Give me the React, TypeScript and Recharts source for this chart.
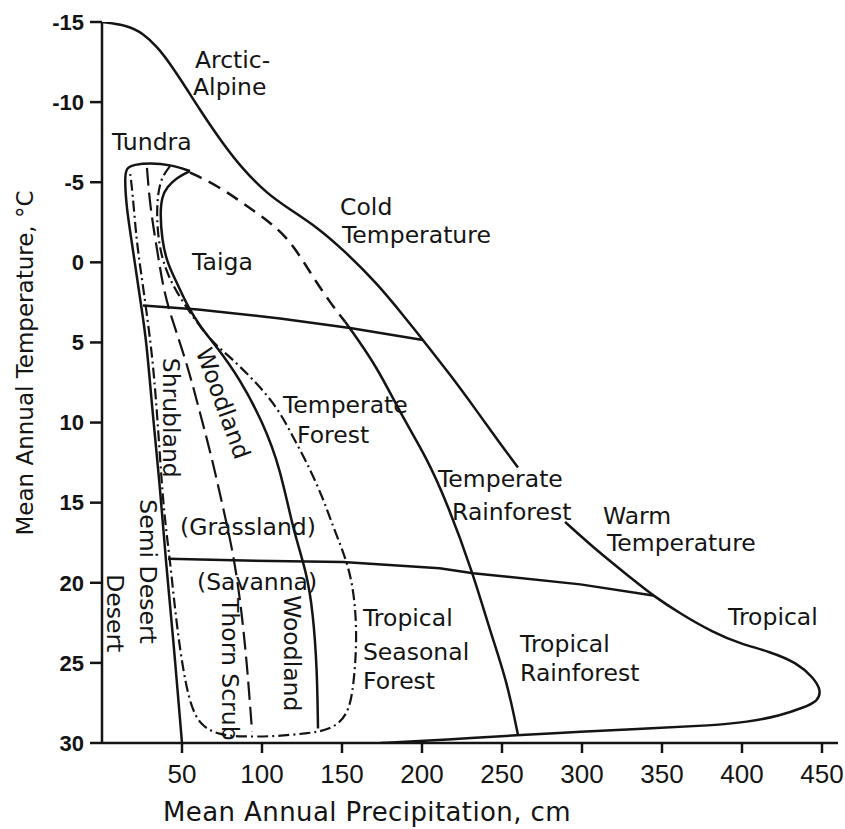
import { ComposedChart, Line, Scatter, XAxis, YAxis } from "recharts";

type Pt = { x: number; y: number };

// x = mean annual precipitation (cm), y = mean annual temperature (°C)
const precipTicks = [50, 100, 150, 200, 250, 300, 350, 400, 450];
const tempTicks = [-15, -10, -5, 0, 5, 10, 15, 20, 25, 30];

// outer envelope, broken where the "Temperate Rainforest" label sits on it
const outerUpper: Pt[] = [
  { x: 0, y: -15 }, { x: 15.6, y: -14.8 }, { x: 25.6, y: -14.3 }, { x: 35, y: -13.4 },
  { x: 42.5, y: -12.4 }, { x: 50.6, y: -11.2 }, { x: 61.3, y: -9.5 }, { x: 75.6, y: -7.4 },
  { x: 88.1, y: -5.8 }, { x: 103, y: -4.3 }, { x: 117.5, y: -3.3 }, { x: 134.4, y: -2.2 },
  { x: 150.6, y: -0.8 }, { x: 171.9, y: 1.3 }, { x: 190.6, y: 3.6 }, { x: 200.6, y: 4.85 },
  { x: 217.5, y: 7.0 }, { x: 233, y: 9.1 }, { x: 248, y: 11.2 }, { x: 260, y: 12.8 },
];
const outerLower: Pt[] = [
  { x: 289.4, y: 16.2 }, { x: 309.4, y: 18.0 }, { x: 331.9, y: 19.8 }, { x: 344.4, y: 20.8 },
  { x: 361, y: 21.9 }, { x: 381.9, y: 23.1 }, { x: 398.8, y: 23.8 }, { x: 417.5, y: 24.3 },
  { x: 434.4, y: 25.0 }, { x: 444.4, y: 25.9 }, { x: 449.5, y: 26.7 }, { x: 447.5, y: 27.4 },
  { x: 438, y: 27.8 }, { x: 423.8, y: 28.3 }, { x: 403, y: 28.7 }, { x: 381.9, y: 28.9 },
  { x: 340.6, y: 29.1 }, { x: 298.8, y: 29.3 }, { x: 260, y: 29.5 }, { x: 215.6, y: 29.8 },
  { x: 174, y: 30 },
];

// the two cross lines
const coldWarmLine: Pt[] = [
  { x: 25.6, y: 2.7 }, { x: 60, y: 2.95 }, { x: 111.3, y: 3.5 }, { x: 155, y: 4.1 }, { x: 200.6, y: 4.85 },
];
const warmTropicLine: Pt[] = [
  { x: 41.3, y: 18.5 }, { x: 81.9, y: 18.6 }, { x: 150.6, y: 18.7 }, { x: 211, y: 19.1 },
  { x: 232, y: 19.4 }, { x: 299, y: 20.1 }, { x: 344.4, y: 20.8 },
];

// tundra cap running down into the desert edge
const desertEdge: Pt[] = [
  { x: 55, y: -5.7 }, { x: 42.5, y: -6.1 }, { x: 30, y: -6.2 }, { x: 20, y: -6.1 },
  { x: 15.2, y: -5.9 }, { x: 14.2, y: -5.3 }, { x: 15.2, y: -3.5 }, { x: 18.4, y: -1.4 },
  { x: 21.5, y: 0.7 }, { x: 24.6, y: 2.8 }, { x: 27.8, y: 4.9 }, { x: 31.6, y: 9.4 },
  { x: 35.9, y: 13.6 }, { x: 40.2, y: 19.0 }, { x: 44.2, y: 23.1 }, { x: 50, y: 30 },
];

const taigaDashed: Pt[] = [
  { x: 55, y: -5.6 }, { x: 71.9, y: -4.8 }, { x: 88.1, y: -3.7 }, { x: 105, y: -2.5 },
  { x: 116, y: -1.5 }, { x: 125, y: -0.2 }, { x: 133.1, y: 1.1 }, { x: 142.5, y: 2.5 },
  { x: 151.9, y: 3.7 },
];
const rainforestEdge: Pt[] = [
  { x: 151.9, y: 3.7 }, { x: 171.9, y: 6.5 }, { x: 186.3, y: 9.4 }, { x: 203, y: 12.2 },
  { x: 215.6, y: 15.0 }, { x: 231.9, y: 19.4 }, { x: 242.5, y: 23.0 }, { x: 253, y: 26.1 },
  { x: 260, y: 29.5 },
];

const taigaInner: Pt[] = [
  { x: 55, y: -5.7 }, { x: 46.9, y: -5.3 }, { x: 40.6, y: -4.7 }, { x: 37.5, y: -4.1 },
  { x: 36.3, y: -3.1 }, { x: 37.5, y: -1.4 }, { x: 40.6, y: 0.0 }, { x: 46.9, y: 1.3 },
  { x: 53.8, y: 2.8 }, { x: 61.3, y: 4.0 }, { x: 71.9, y: 5.3 }, { x: 86.3, y: 7.3 },
  { x: 100.6, y: 10.0 }, { x: 111.3, y: 12.8 }, { x: 119.4, y: 16.7 }, { x: 128.1, y: 19.4 },
  { x: 131.9, y: 21.9 }, { x: 134.4, y: 25.3 }, { x: 135, y: 29.1 },
];

const shrubDashed: Pt[] = [
  { x: 28.1, y: -5.9 }, { x: 30, y: -3.5 }, { x: 34.4, y: -0.8 }, { x: 38.1, y: 1.5 },
  { x: 42.5, y: 3.2 }, { x: 53.1, y: 6.3 }, { x: 61.3, y: 9.4 }, { x: 69.4, y: 12.5 },
  { x: 75.6, y: 15.3 }, { x: 81.3, y: 17.8 }, { x: 86.3, y: 20.9 }, { x: 90.6, y: 25.0 },
  { x: 93.8, y: 29.3 },
];

// dash-dot loop round woodland / savanna / seasonal forest
const seasonalLoop: Pt[] = [
  { x: 42.5, y: -6.0 }, { x: 36.3, y: -5.2 }, { x: 34, y: -3.5 }, { x: 35, y: -1.4 },
  { x: 39, y: 0.3 }, { x: 45.6, y: 1.7 }, { x: 56, y: 3.3 }, { x: 68, y: 4.9 },
  { x: 80, y: 5.9 }, { x: 94.4, y: 7.3 }, { x: 109.4, y: 9.0 }, { x: 119.4, y: 10.9 },
  { x: 128.1, y: 12.5 }, { x: 138.1, y: 14.7 }, { x: 144.4, y: 16.5 }, { x: 150.6, y: 18.0 },
  { x: 156.9, y: 20.0 }, { x: 159.6, y: 23.1 }, { x: 157.5, y: 26.3 }, { x: 154, y: 28.3 },
  { x: 142.5, y: 29.2 }, { x: 128.1, y: 29.4 }, { x: 106.9, y: 29.6 }, { x: 86.3, y: 29.6 },
  { x: 74, y: 29.5 }, { x: 62, y: 29.0 }, { x: 54, y: 27.5 }, { x: 47, y: 23.1 },
  { x: 42.5, y: 18.5 }, { x: 38.5, y: 15.6 }, { x: 35.2, y: 10.5 }, { x: 32, y: 6.3 },
  { x: 28, y: 3.2 }, { x: 24.5, y: 0.7 }, { x: 21.5, y: -1.4 }, { x: 19, y: -4.5 },
  { x: 17.5, y: -5.6 },
];

const regionLabels = [
  { x: 58.1, y: -12.65, text: "Arctic-" },
  { x: 56.9, y: -10.95, text: "Alpine" },
  { x: 6.3, y: -7.5, text: "Tundra" },
  { x: 148.8, y: -3.45, text: "Cold" },
  { x: 150, y: -1.7, text: "Temperature" },
  { x: 56.3, y: 0.0, text: "Taiga" },
  { x: 113.1, y: 8.9, text: "Temperate" },
  { x: 121.9, y: 10.8, text: "Forest" },
  { x: 210, y: 13.5, text: "Temperate" },
  { x: 218.8, y: 15.6, text: "Rainforest" },
  { x: 313.1, y: 15.85, text: "Warm" },
  { x: 315.6, y: 17.5, text: "Temperature" },
  { x: 391.3, y: 22.15, text: "Tropical" },
  { x: 261.3, y: 23.8, text: "Tropical" },
  { x: 261.3, y: 25.65, text: "Rainforest" },
  { x: 163.1, y: 22.2, text: "Tropical" },
  { x: 163.1, y: 24.35, text: "Seasonal" },
  { x: 163.1, y: 26.1, text: "Forest" },
  { x: 48.8, y: 16.5, text: "(Grassland)" },
  { x: 59.4, y: 19.95, text: "(Savanna)" },
  { x: 43.1, y: 9.7, text: "Shrubland", rotate: 90 },
  { x: 75.6, y: 8.8, text: "Woodland", rotate: 70 },
  { x: 28.8, y: 19.3, text: "Semi Desert", rotate: 90 },
  { x: 8.1, y: 21.9, text: "Desert", rotate: 90 },
  { x: 80, y: 25.4, text: "Thorn Scrub", rotate: 90 },
  { x: 118.8, y: 24.4, text: "Woodland", rotate: 90 },
];

const INK = "#141414";
const FONT = "'DejaVu Sans', sans-serif";

const RegionLabel = (props: any) => {
  const { cx, cy, payload } = props;
  if (cx == null || cy == null) return null;
  const rot = payload.rotate;
  return (
    <text
      x={cx}
      y={cy}
      fill={INK}
      fontSize={23.5}
      fontFamily={FONT}
      textAnchor={rot ? "middle" : "start"}
      dominantBaseline="central"
      transform={rot ? `rotate(${rot} ${cx} ${cy})` : undefined}
    >
      {payload.text}
    </text>
  );
};

const XTitle = (props: any) => {
  const vb = props.viewBox || { x: 0, y: 0 };
  return (
    <text x={vb.x + 265} y={vb.y + 69} textAnchor="middle" dominantBaseline="central"
      fill={INK} fontSize={26} fontFamily={FONT} letterSpacing={0.4}>
      Mean Annual Precipitation, cm
    </text>
  );
};

const YTitle = (props: any) => {
  const vb = props.viewBox || { x: 0, y: 0 };
  const cx = vb.x + 17;
  const cy = 355;
  return (
    <text x={cx} y={cy} textAnchor="middle" dominantBaseline="central"
      transform={`rotate(-90 ${cx} ${cy})`} fill={INK} fontSize={23} fontFamily={FONT}>
      Mean Annual Temperature, °C
    </text>
  );
};

const lineProps = {
  type: "basis" as const,
  dataKey: "y",
  stroke: INK,
  strokeWidth: 2.5,
  dot: false,
  activeDot: false,
  isAnimationActive: false,
  legendType: "none" as const,
};

export default function App() {
  return (
    <div style={{ position: "absolute", top: 8, left: 8, width: 837, height: 821 }}>
      <ComposedChart width={837} height={821} margin={{ top: 14, right: 7, bottom: 0, left: 0 }}>
        <XAxis
          type="number"
          dataKey="x"
          domain={[0, 460]}
          ticks={precipTicks}
          allowDataOverflow
          height={86}
          stroke={INK}
          strokeWidth={2.5}
          tickSize={10}
          tickMargin={12}
          tick={{ fill: INK, fontSize: 26, fontFamily: "'Liberation Sans', sans-serif" }}
          label={<XTitle />}
        />
        <YAxis
          type="number"
          dataKey="y"
          domain={[-15, 30]}
          ticks={tempTicks}
          reversed
          allowDataOverflow
          width={94}
          stroke={INK}
          strokeWidth={2.5}
          tickSize={12}
          tickMargin={6}
          tick={{ fill: INK, fontSize: 22, fontWeight: 700, fontFamily: "'Liberation Sans', sans-serif" }}
          label={<YTitle />}
        />
        <Line {...lineProps} data={outerUpper} />
        <Line {...lineProps} data={outerLower} />
        <Line {...lineProps} data={coldWarmLine} type="linear" />
        <Line {...lineProps} data={warmTropicLine} type="linear" />
        <Line {...lineProps} data={desertEdge} />
        <Line {...lineProps} data={taigaDashed} strokeDasharray="13 8" />
        <Line {...lineProps} data={rainforestEdge} />
        <Line {...lineProps} data={taigaInner} />
        <Line {...lineProps} data={shrubDashed} strokeDasharray="18 7" strokeWidth={2.2} />
        <Line {...lineProps} data={seasonalLoop} strokeDasharray="11 4 2 4" strokeWidth={2.2} />
        <Scatter data={regionLabels} dataKey="y" shape={RegionLabel} isAnimationActive={false} legendType="none" />
      </ComposedChart>
    </div>
  );
}
